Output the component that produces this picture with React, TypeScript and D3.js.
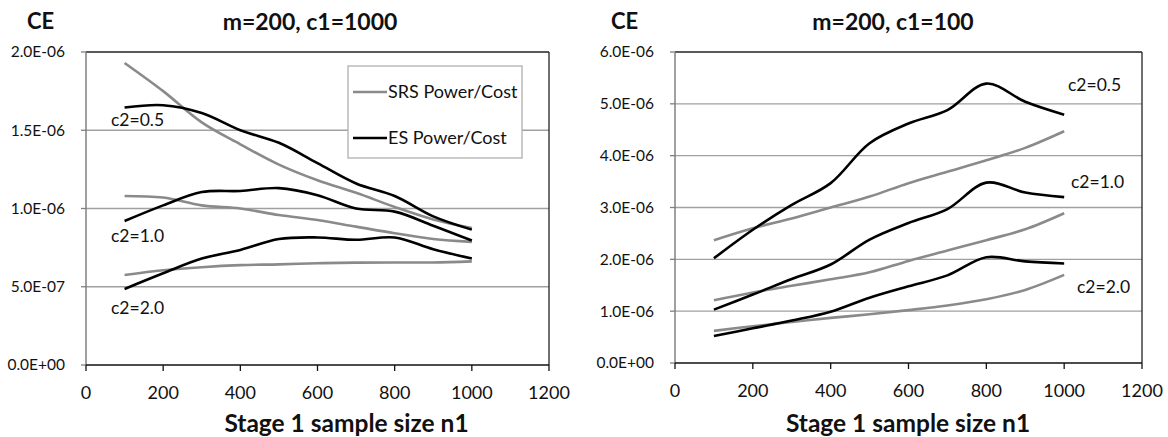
import React from "react";
import * as d3 from "d3";

// Stage 1 sample size n1
const n1 = [100, 200, 300, 400, 500, 600, 700, 800, 900, 1000];
const UNIT = 1e-6;

// Left panel: m=200, c1=1000 (values in units of 1E-06)
const leftSRS05 = [1.93, 1.75, 1.55, 1.41, 1.28, 1.18, 1.10, 1.01, 0.93, 0.875];
const leftES05 = [1.645, 1.66, 1.61, 1.50, 1.42, 1.29, 1.16, 1.08, 0.95, 0.865];
const leftSRS10 = [1.08, 1.07, 1.02, 1.0, 0.958, 0.926, 0.884, 0.842, 0.805, 0.787];
const leftES10 = [0.92, 1.02, 1.105, 1.112, 1.13, 1.085, 1.0, 0.98, 0.89, 0.795];
const leftSRS20 = [0.575, 0.605, 0.625, 0.638, 0.643, 0.65, 0.654, 0.655, 0.655, 0.662];
const leftES20 = [0.486, 0.586, 0.68, 0.735, 0.805, 0.815, 0.8, 0.815, 0.74, 0.68];

// Right panel: m=200, c1=100 (values in units of 1E-06)
const rightSRS05 = [2.37, 2.6, 2.79, 3.0, 3.21, 3.47, 3.69, 3.91, 4.15, 4.47];
const rightES05 = [2.02, 2.57, 3.05, 3.47, 4.24, 4.62, 4.88, 5.39, 5.04, 4.79];
const rightSRS10 = [1.21, 1.36, 1.49, 1.615, 1.75, 1.97, 2.17, 2.37, 2.58, 2.89];
const rightES10 = [1.03, 1.32, 1.62, 1.9, 2.38, 2.7, 2.97, 3.48, 3.29, 3.2];
const rightSRS20 = [0.62, 0.71, 0.79, 0.87, 0.94, 1.02, 1.11, 1.23, 1.41, 1.7];
const rightES20 = [0.52, 0.67, 0.82, 0.99, 1.26, 1.48, 1.69, 2.04, 1.96, 1.92];

const xTicks = [0, 200, 400, 600, 800, 1000, 1200];
const leftYTicks = [0, 0.5, 1.0, 1.5, 2.0];
const rightYTicks = [0, 1, 2, 3, 4, 5, 6];
const c2Labels = ["c2=0.5", "c2=1.0", "c2=2.0"];
const legendLabels = ["SRS Power/Cost", "ES Power/Cost"];

const GRAY = "#8a8a8a";
const BLACK = "#000000";
const FONT = "Lato, 'Open Sans', sans-serif";

function fmtE(v: number): string {
  const val = v * UNIT;
  if (val === 0) return "0.0E+00";
  let e = Math.floor(Math.log10(val) + 1e-9);
  let m = val / Math.pow(10, e);
  if (m >= 9.95) { m /= 10; e += 1; }
  return m.toFixed(1) + "E" + (e < 0 ? "-" : "+") + String(Math.abs(e)).padStart(2, "0");
}

type Series = { values: number[]; color: string };

type PanelProps = {
  left: number; right: number; top: number; bottom: number;
  yMax: number; yTicks: number[];
  title: string; titleX: number; ceX: number; axisTitleX: number;
  series: Series[];
  labels: { text: string; x: number; y: number }[];
  legend?: { x: number; y: number; w: number; h: number };
};

function Panel(p: PanelProps) {
  const x = d3.scaleLinear().domain([0, 1200]).range([p.left, p.right]);
  const y = d3.scaleLinear().domain([0, p.yMax]).range([p.bottom, p.top]);
  const line = d3
    .line<number>()
    .x((_, i) => x(n1[i]))
    .y((d) => y(d))
    .curve(d3.curveCatmullRom.alpha(0.5));
  return (
    <g fontFamily={FONT}>
      {/* gridlines */}
      {p.yTicks.filter((t) => t > 0 && t < p.yMax).map((t) => (
        <line key={"g" + t} x1={p.left} x2={p.right} y1={y(t)} y2={y(t)} stroke="#a0a0a0" strokeWidth={1.3} />
      ))}
      {/* frame */}
      <line x1={p.left} x2={p.right} y1={p.top} y2={p.top} stroke="#222" strokeWidth={1.3} />
      <line x1={p.right} x2={p.right} y1={p.top} y2={p.bottom} stroke="#222" strokeWidth={1.3} />
      <line x1={p.left} x2={p.left} y1={p.top} y2={p.bottom} stroke="#808080" strokeWidth={1.5} />
      <line x1={p.left} x2={p.right} y1={p.bottom} y2={p.bottom} stroke="#111" strokeWidth={1.5} />
      {/* y ticks */}
      {p.yTicks.map((t) => (
        <g key={"y" + t}>
          <line x1={p.left - 5} x2={p.left} y1={y(t)} y2={y(t)} stroke="#808080" strokeWidth={1.3} />
          <text x={p.left - 21} y={y(t)} dy="0.35em" textAnchor="end" fontSize={15.5} fill="#111">
            {fmtE(t)}
          </text>
        </g>
      ))}
      {/* x ticks */}
      {xTicks.map((t) => (
        <g key={"x" + t}>
          <line x1={x(t)} x2={x(t)} y1={p.bottom} y2={p.bottom + 6} stroke="#111" strokeWidth={1.3} />
          <text x={x(t)} y={p.bottom + 28} dy="0.35em" textAnchor="middle" fontSize={18} fill="#111">
            {t}
          </text>
        </g>
      ))}
      {/* series */}
      {p.series.map((s, i) => (
        <path key={"s" + i} d={line(s.values) || ""} fill="none" stroke={s.color} strokeWidth={2.6} strokeLinejoin="round" strokeLinecap="butt" />
      ))}
      {/* curve labels */}
      {p.labels.map((l, i) => (
        <text key={"l" + i} x={l.x} y={l.y} dy="0.35em" fontSize={17.5} fill="#111">
          {l.text}
        </text>
      ))}
      {/* legend */}
      {p.legend && (
        <g>
          <rect x={p.legend.x} y={p.legend.y} width={p.legend.w} height={p.legend.h} fill="#fff" stroke="#b0b0b0" strokeWidth={1.3} />
          {legendLabels.map((lab, i) => {
            const ly = p.legend!.y + 26 + i * 46;
            return (
              <g key={lab}>
                <line x1={p.legend!.x + 5} x2={p.legend!.x + 39} y1={ly} y2={ly} stroke={i === 0 ? GRAY : BLACK} strokeWidth={2.6} />
                <text x={p.legend!.x + 40} y={ly} dy="0.35em" fontSize={18} fill="#111">
                  {lab}
                </text>
              </g>
            );
          })}
        </g>
      )}
      {/* titles */}
      <text x={p.titleX} y={22} dy="0.35em" textAnchor="middle" fontSize={23} fontWeight="bold" fill="#111">
        {p.title}
      </text>
      <text x={p.ceX} y={21} dy="0.35em" fontSize={22} fontWeight="bold" fill="#111">
        CE
      </text>
      <text x={p.axisTitleX} y={423} dy="0.35em" textAnchor="middle" fontSize={24.5} fontWeight="bold" fill="#111">
        Stage 1 sample size n1
      </text>
    </g>
  );
}

export default function App() {
  return (
    <svg width={1168} height={437} style={{ position: "absolute", left: 0, top: 0, background: "#fff" }}>
      <rect width={1168} height={437} fill="#fff" />
      <Panel
        left={86} right={549} top={52} bottom={365}
        yMax={2.0} yTicks={leftYTicks}
        title="m=200, c1=1000" titleX={310} ceX={27} axisTitleX={346.5}
        series={[
          { values: leftSRS05, color: GRAY },
          { values: leftSRS10, color: GRAY },
          { values: leftSRS20, color: GRAY },
          { values: leftES05, color: BLACK },
          { values: leftES10, color: BLACK },
          { values: leftES20, color: BLACK },
        ]}
        labels={[
          { text: c2Labels[0], x: 111, y: 120 },
          { text: c2Labels[1], x: 111, y: 236 },
          { text: c2Labels[2], x: 111, y: 308 },
        ]}
        legend={{ x: 348, y: 66, w: 174, h: 92 }}
      />
      <Panel
        left={675} right={1142} top={52} bottom={363}
        yMax={6.0} yTicks={rightYTicks}
        title="m=200, c1=100" titleX={893} ceX={611} axisTitleX={908}
        series={[
          { values: rightSRS05, color: GRAY },
          { values: rightSRS10, color: GRAY },
          { values: rightSRS20, color: GRAY },
          { values: rightES05, color: BLACK },
          { values: rightES10, color: BLACK },
          { values: rightES20, color: BLACK },
        ]}
        labels={[
          { text: c2Labels[0], x: 1068, y: 85 },
          { text: c2Labels[1], x: 1071, y: 182 },
          { text: c2Labels[2], x: 1077, y: 287 },
        ]}
      />
    </svg>
  );
}
